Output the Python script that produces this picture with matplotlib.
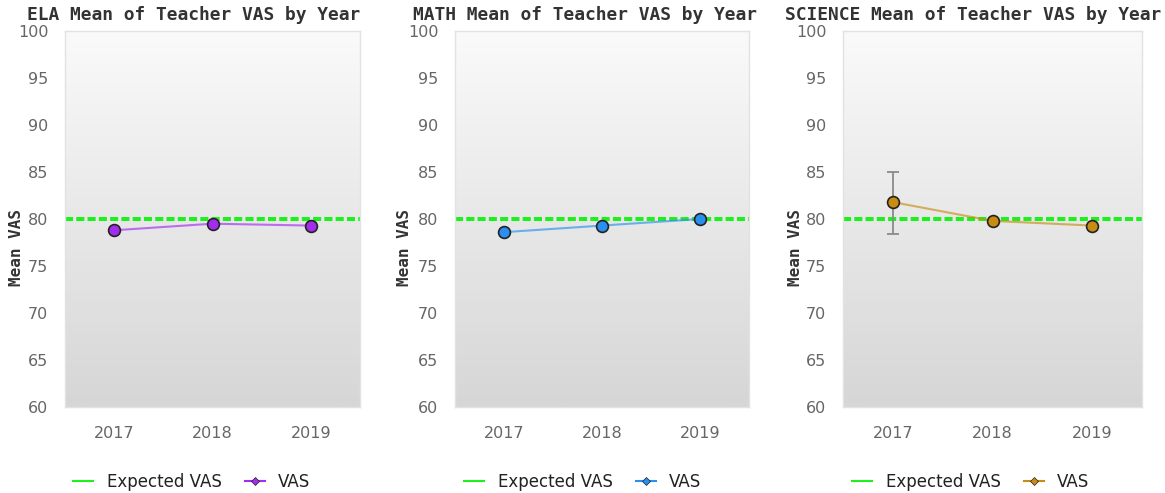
import numpy as np
import matplotlib
matplotlib.use("Agg")
import matplotlib.pyplot as plt
from matplotlib.lines import Line2D
from matplotlib.colors import LinearSegmentedColormap

years = ["2017", "2018", "2019"]
subjects = ["ELA", "MATH", "SCIENCE"]
expected_vas = 80
ela_vas = [78.8, 79.5, 79.3]
math_vas = [78.6, 79.3, 80.0]
science_vas = [81.8, 79.8, 79.3]
science_err_low = [78.4, None, None]
science_err_high = [85.0, None, None]
series = [ela_vas, math_vas, science_vas]
colors = ["#a32cef", "#2a8ff0", "#c88c12"]
yticks = [60, 65, 70, 75, 80, 85, 90, 95, 100]

W, H = 1165, 493
fig = plt.figure(figsize=(W / 100, H / 100), dpi=100)

lefts = [65, 455, 843]
rights = [360, 749, 1142]
top_px, bot_px = 31, 407
title_cx = [194, 585, 973]
ylabel_x = [17, 405, 795]
legend_cx = [192, 583, 971]

grad = np.linspace(0, 1, 256).reshape(-1, 1)
cmap = LinearSegmentedColormap.from_list("bg", ["#d6d6d6", "#e8e8e8", "#fafafa"])

x = np.arange(len(years))
for i, subj in enumerate(subjects):
    ax = fig.add_axes([lefts[i] / W, 1 - bot_px / H, (rights[i] - lefts[i]) / W, (bot_px - top_px) / H])
    ax.set_xlim(-0.5, len(years) - 0.5)
    ax.set_ylim(60, 100)
    ax.imshow(grad, extent=[-0.5, len(years) - 0.5, 60, 100], aspect="auto",
              cmap=cmap, zorder=0, origin="lower")
    for s in ax.spines.values():
        s.set_color("#e2e2e2")
        s.set_linewidth(1)
    ax.set_yticks(yticks)
    ax.set_xticks(x)
    ax.set_xticklabels(years)
    ax.tick_params(length=0, labelsize=11.5, labelcolor="#666666")
    ax.tick_params(axis="y", pad=12)
    ax.tick_params(axis="x", pad=14)
    ax.axhline(expected_vas, color="#1ef01e", lw=2.9, dashes=(2.0, 0.8), zorder=2)
    c = colors[i]
    vals = series[i]
    if subj == "SCIENCE":
        for j in range(len(years)):
            if science_err_low[j] is not None:
                ax.errorbar([x[j]], [vals[j]],
                            yerr=[[vals[j] - science_err_low[j]], [science_err_high[j] - vals[j]]],
                            fmt="none", ecolor="#8a8a8a", elinewidth=1.3, capsize=4, capthick=1.3, zorder=3)
    ax.plot(x, vals, color=c, lw=1.5, alpha=0.65, zorder=4)
    ax.plot(x, vals, linestyle="none", marker="o", markersize=8.5, markerfacecolor=c,
            markeredgecolor="#222222", markeredgewidth=1.2, zorder=5)
    fig.text(title_cx[i] / W, 1 - 15 / H, f"{subj} Mean of Teacher VAS by Year",
             ha="center", va="center", family="DejaVu Sans Mono", fontweight="bold",
             fontsize=12.9, color="#333333")
    fig.text(ylabel_x[i] / W, 1 - 247 / H, "Mean VAS", rotation=90, ha="center", va="center",
             family="DejaVu Sans Mono", fontweight="bold", fontsize=11.5, color="#333333")
    handles = [Line2D([], [], color="#1ef01e", lw=1.5),
               Line2D([], [], color=c, lw=1.5, marker="D", markersize=4,
                      markerfacecolor=c, markeredgecolor="#222222", markeredgewidth=0.5)]
    fig.legend(handles, ["Expected VAS", "VAS"], loc="center",
               bbox_to_anchor=(legend_cx[i] / W, 1 - 482 / H), ncol=2, frameon=False,
               fontsize=12, handlelength=1.2, columnspacing=1.4, handletextpad=0.8,
               labelcolor="#222222")

fig.savefig("out.png", dpi=100)
